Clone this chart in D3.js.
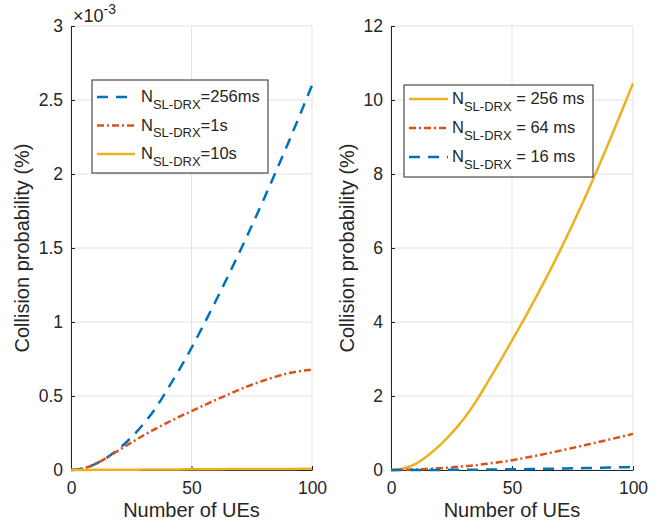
<!DOCTYPE html>
<html>
<head>
<meta charset="utf-8">
<script src="https://cdn.jsdelivr.net/npm/d3@7"></script>
<style>
  body { margin: 0; background: #fff; }
  svg { display: block; font-family: "Liberation Sans", Arial, sans-serif; }
  text { fill: #262626; }
</style>
</head>
<body>
<svg width="668" height="529"></svg>
<script>
// number of UEs (shared x values)
const ues = [0, 5, 10, 15, 20, 25, 30, 35, 40, 45, 50, 55, 60, 65, 70, 75, 80, 85, 90, 95, 100];

// left panel, values in units of 1e-3 %
const left256ms = [0, 0.01, 0.04, 0.085, 0.145, 0.22, 0.31, 0.415, 0.545, 0.68, 0.825, 0.98, 1.14, 1.305, 1.475, 1.65, 1.83, 2.015, 2.205, 2.4, 2.6];
const left1s = [0, 0.01, 0.04, 0.085, 0.135, 0.185, 0.233, 0.278, 0.32, 0.36, 0.398, 0.436, 0.473, 0.509, 0.544, 0.576, 0.605, 0.631, 0.653, 0.668, 0.678];
const left10s = [0, 0, 0.001, 0.001, 0.002, 0.002, 0.003, 0.003, 0.004, 0.004, 0.005, 0.005, 0.005, 0.006, 0.006, 0.006, 0.007, 0.007, 0.007, 0.008, 0.008];

// right panel, values in %
const right256ms = [0, 0.04, 0.16, 0.38, 0.66, 0.99, 1.38, 1.84, 2.38, 2.93, 3.5, 4.08, 4.68, 5.3, 5.95, 6.63, 7.34, 8.08, 8.85, 9.64, 10.45];
const right64ms = [0, 0.005, 0.015, 0.03, 0.05, 0.07, 0.1, 0.13, 0.17, 0.215, 0.265, 0.323, 0.386, 0.454, 0.524, 0.596, 0.67, 0.745, 0.821, 0.898, 0.976];
const right16ms = [0, 0, 0.001, 0.002, 0.003, 0.005, 0.007, 0.009, 0.012, 0.015, 0.019, 0.023, 0.028, 0.033, 0.039, 0.045, 0.052, 0.059, 0.066, 0.073, 0.08];

const xTicks = [0, 50, 100];
const leftYTicks = [0, 0.5, 1, 1.5, 2, 2.5, 3];
const rightYTicks = [0, 2, 4, 6, 8, 10, 12];

const blue = '#0072BD', orange = '#D95319', yellow = '#EDB120';
const dashed = '11,8', dashDot = '7,3,2,3';

const svg = d3.select('svg');
const plotTop = 26, plotBottom = 470;

function panel(opt) {
	const x = d3.scaleLinear().domain([0, 100]).range([opt.x0, opt.x1]);
	const y = d3.scaleLinear().domain(opt.yDomain).range([plotBottom, plotTop]);
	const g = svg.append('g');

	// grid
	g.append('g').selectAll('line').data(opt.yTicks).enter().append('line')
		.attr('x1', opt.x0).attr('x2', opt.x1)
		.attr('y1', d => y(d)).attr('y2', d => y(d))
		.attr('stroke', '#e3e3e3').attr('stroke-width', 1);
	g.append('g').selectAll('line').data(xTicks).enter().append('line')
		.attr('x1', d => x(d)).attr('x2', d => x(d))
		.attr('y1', plotTop).attr('y2', plotBottom)
		.attr('stroke', '#e3e3e3').attr('stroke-width', 1);

	// axes
	const xAxis = g.append('g').attr('transform', `translate(0,${plotBottom})`)
		.call(d3.axisBottom(x).tickValues(xTicks).tickFormat(d => String(d))
			.tickSizeInner(-4).tickSizeOuter(0).tickPadding(12));
	const yAxis = g.append('g').attr('transform', `translate(${opt.x0},0)`)
		.call(d3.axisLeft(y).tickValues(opt.yTicks).tickFormat(d => String(d))
			.tickSizeInner(-4).tickSizeOuter(0).tickPadding(8));
	[xAxis, yAxis].forEach(a => {
		a.select('.domain').attr('stroke', '#262626').attr('stroke-width', 1);
		a.selectAll('.tick line').attr('stroke', '#262626');
		a.selectAll('.tick text').attr('fill', '#262626').style('font-size', '17.5px')
			.style('font-family', '"Liberation Sans", Arial, sans-serif');
	});
	xAxis.selectAll('.tick text').attr('dy', '0.71em');

	// labels
	g.append('text')
		.attr('x', (opt.x0 + opt.x1) / 2).attr('y', 517)
		.attr('text-anchor', 'middle').style('font-size', '20px')
		.text('Number of UEs');
	g.append('text')
		.attr('transform', `translate(${opt.labelX},${(plotTop + plotBottom) / 2}) rotate(-90)`)
		.attr('text-anchor', 'middle').style('font-size', '20px')
		.text('Collision probability (%)');

	// lines
	const line = d3.line()
		.x((d, i) => x(ues[i]))
		.y(d => y(d))
		.curve(d3.curveMonotoneX);
	opt.series.forEach(s => {
		g.append('path')
			.datum(s.values)
			.attr('d', line)
			.attr('fill', 'none')
			.attr('stroke', s.color)
			.attr('stroke-width', 2.5)
			.attr('stroke-dasharray', s.dash || null);
	});

	// legend
	const lg = g.append('g');
	lg.append('rect')
		.attr('x', opt.legend.x).attr('y', opt.legend.y)
		.attr('width', opt.legend.w).attr('height', opt.legend.h)
		.attr('fill', '#fff').attr('stroke', '#262626').attr('stroke-width', 1);
	opt.series.forEach((s, i) => {
		const by = opt.legend.y + opt.legend.row0 + i * opt.legend.dy;
		lg.append('line')
			.attr('x1', opt.legend.x + 5).attr('x2', opt.legend.x + 5 + opt.legend.lineW)
			.attr('y1', by - 5).attr('y2', by - 5)
			.attr('stroke', s.color).attr('stroke-width', 2.5)
			.attr('stroke-dasharray', s.dash || null);
		const t = lg.append('text')
			.attr('x', opt.legend.x + opt.legend.textX).attr('y', by)
			.style('font-size', '16.5px');
		t.append('tspan').text('N');
		t.append('tspan').attr('dy', 6.5).style('font-size', '13px').text('SL-DRX');
		t.append('tspan').attr('dy', -6.5).text(s.label);
	});
	return g;
}

const leftPanel = panel({
	x0: 71, x1: 312, yDomain: [0, 3], yTicks: leftYTicks, labelX: 29,
	series: [
		{ values: left256ms, color: blue, dash: dashed, label: '=256ms' },
		{ values: left1s, color: orange, dash: dashDot, label: '=1s' },
		{ values: left10s, color: yellow, label: '=10s' }
	],
	legend: { x: 92, y: 80, w: 176, h: 93, row0: 22, dy: 28.5, lineW: 38, textX: 49 }
});

// exponent label
const expo = leftPanel.append('text').attr('x', 73).attr('y', 22).style('font-size', '18px');
expo.append('tspan').text('\u00d710');
expo.append('tspan').attr('dy', -8).style('font-size', '14px').text('-3');

panel({
	x0: 391, x1: 633, yDomain: [0, 12], yTicks: rightYTicks, labelX: 354,
	series: [
		{ values: right256ms, color: yellow, label: ' = 256 ms' },
		{ values: right64ms, color: orange, dash: dashDot, label: ' = 64 ms' },
		{ values: right16ms, color: blue, dash: dashed, label: ' = 16 ms' }
	],
	legend: { x: 404, y: 85, w: 189, h: 92, row0: 19, dy: 29, lineW: 39, textX: 48 }
});
</script>
</body>
</html>
